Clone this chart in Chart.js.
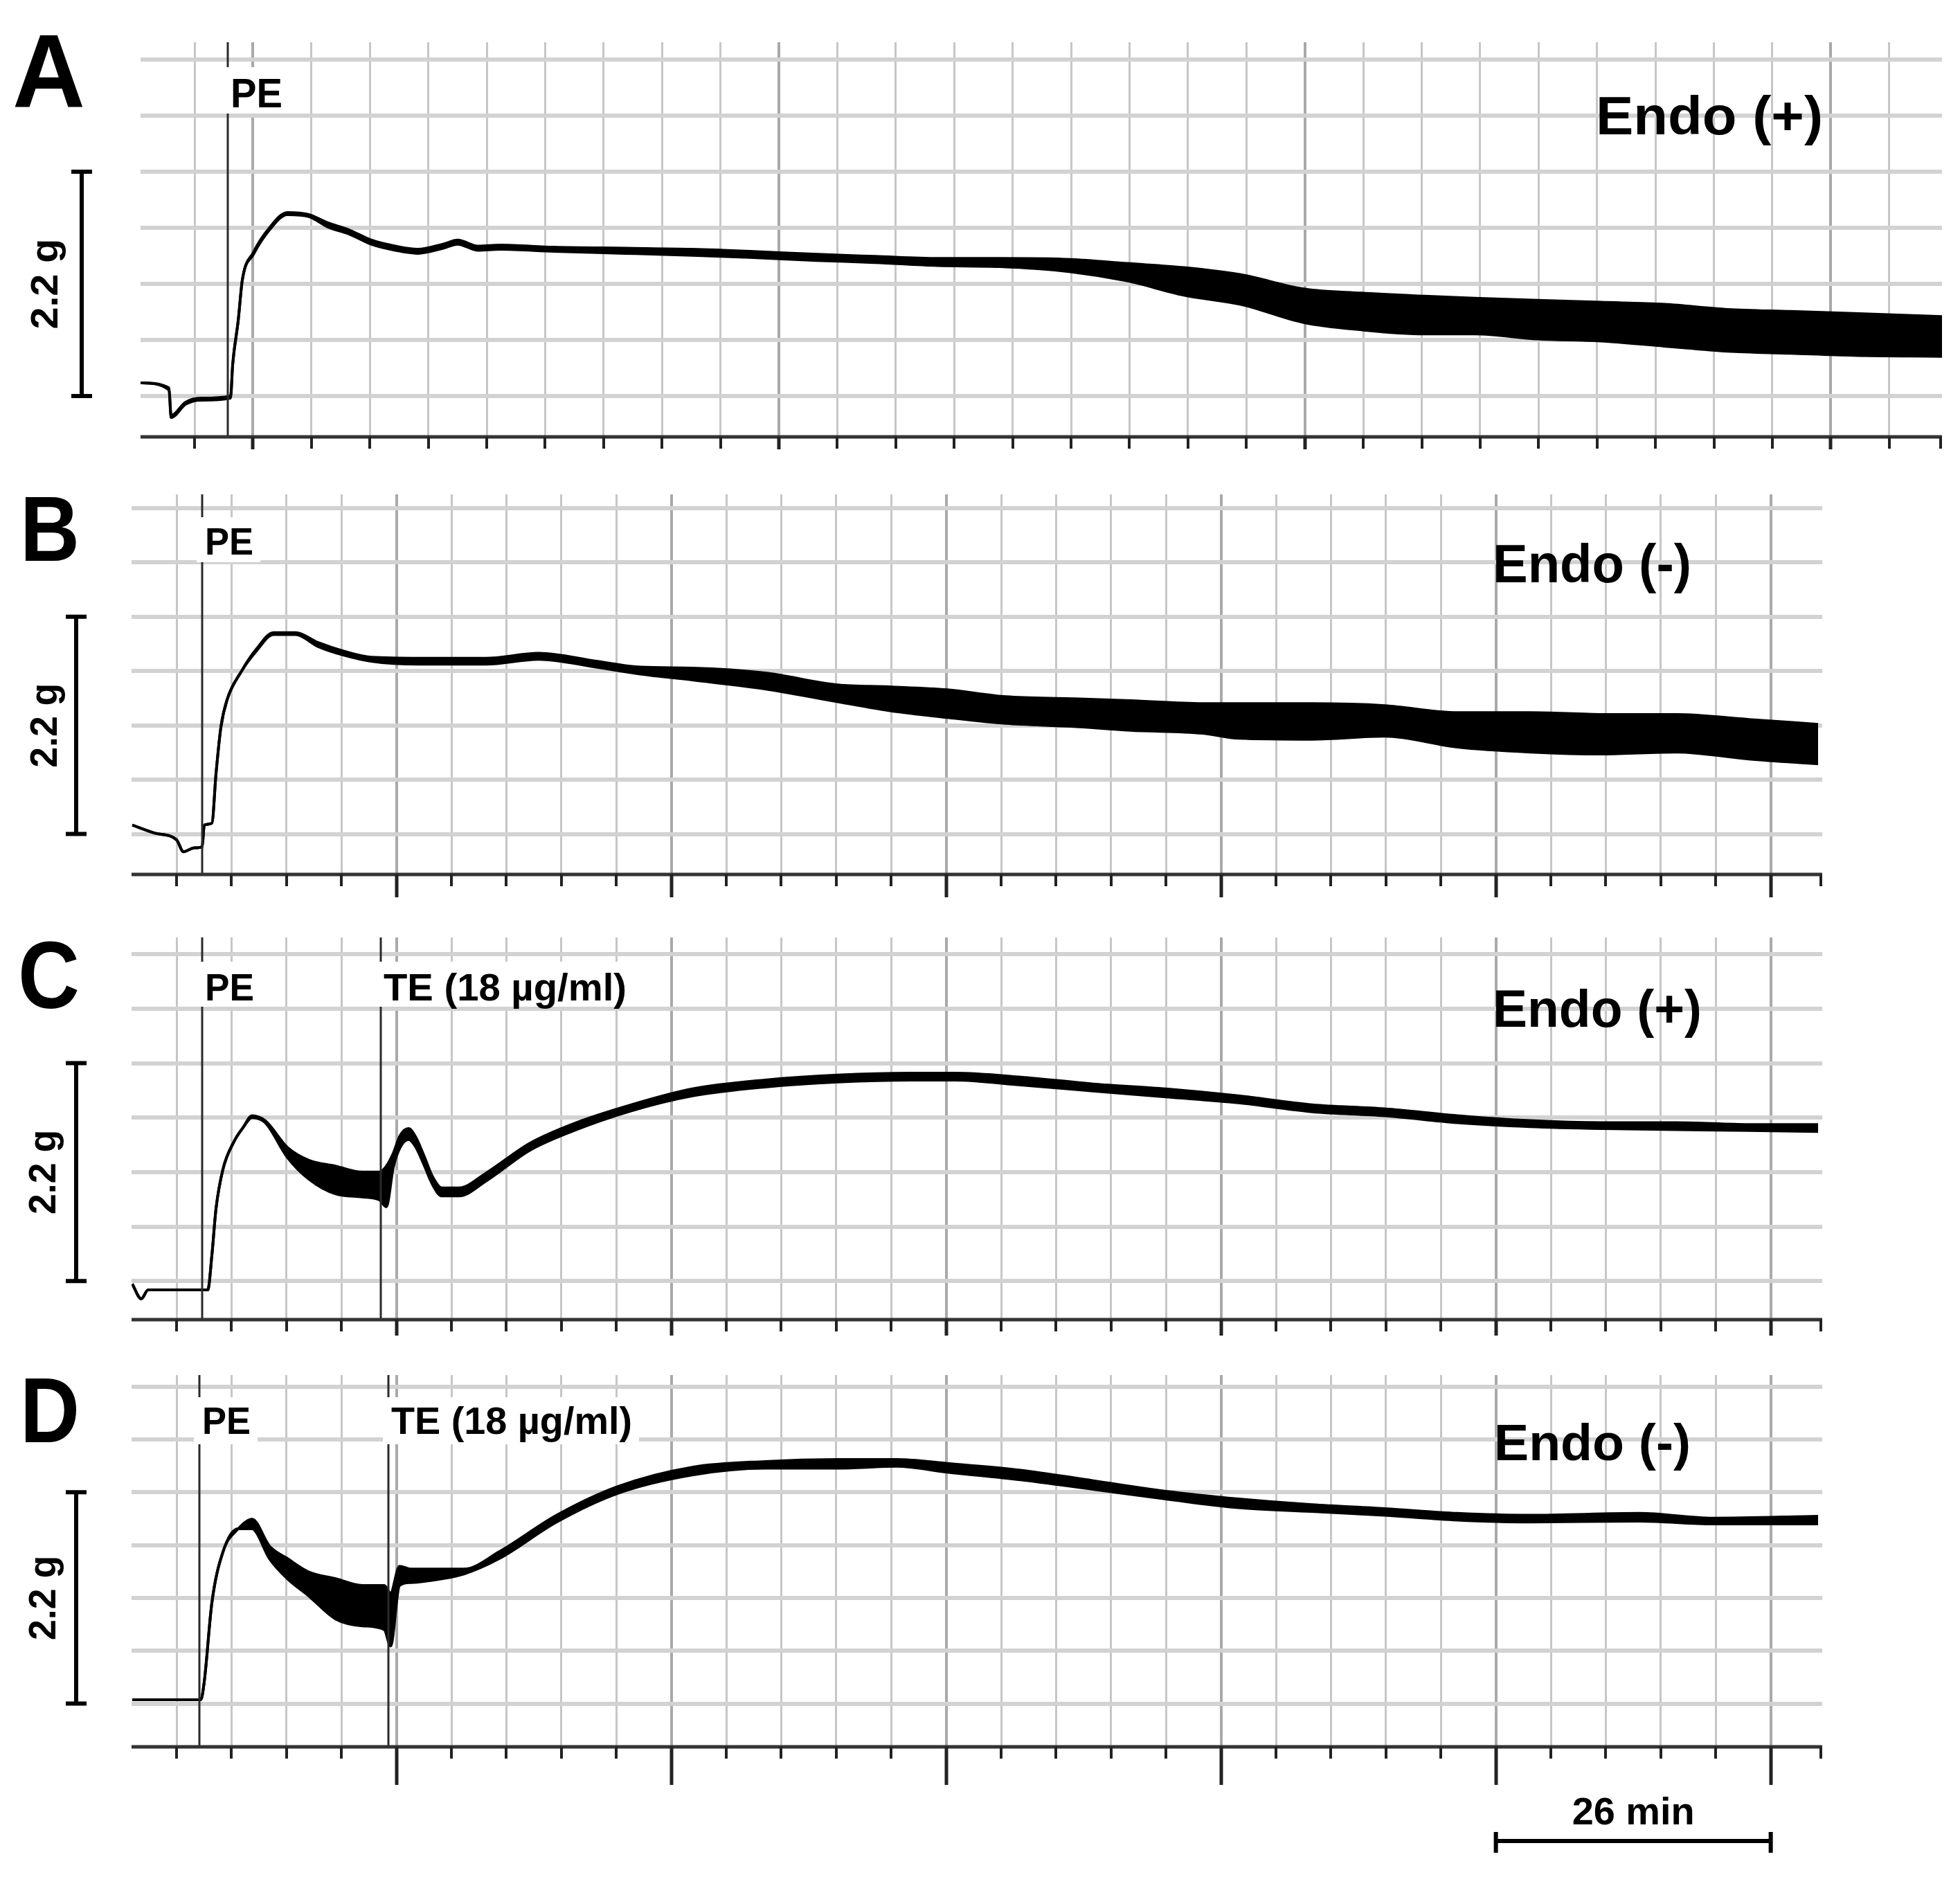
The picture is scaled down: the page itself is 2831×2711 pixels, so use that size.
<!DOCTYPE html>
<html>
<head>
<title>Isometric tension traces</title>
<script src="https://cdn.jsdelivr.net/npm/chart.js"></script>
<style>
  body { margin: 0; background: #fff; width: 2831px; height: 2711px; overflow: hidden; position: relative; }
  .panel { position: absolute; left: 0; width: 2831px; }
</style>
</head>
<body>

<script>
  // time in min, tension in g (upper / lower edge of the trace band)
  const aTime = [0.39, 2.92, 3.11, 4.40, 5.75, 8.40, 8.59, 9.08, 9.45, 10.44, 11.79, 13.46, 15.37, 17.03, 18.94, 20.91, 23.07, 25.04, 27.32, 28.61, 30.40, 32.37, 37.18, 43.52, 49.50, 54.61, 60.59, 65.76, 71.31, 76.85, 83.14, 88.19, 93.24, 98.29, 103.96, 109.01, 114.62, 119.12, 124.72, 130.33, 136.00, 141.60, 147.21, 152.82, 160.70];
  const aHigh = [0.13, 0.08, -0.19, -0.06, -0.02, 0.00, 0.31, 0.74, 1.14, 1.41, 1.64, 1.80, 1.78, 1.70, 1.63, 1.53, 1.47, 1.44, 1.49, 1.53, 1.47, 1.48, 1.46, 1.45, 1.44, 1.42, 1.39, 1.37, 1.35, 1.35, 1.34, 1.30, 1.26, 1.19, 1.05, 1.01, 0.98, 0.96, 0.94, 0.92, 0.90, 0.85, 0.83, 0.81, 0.78];
  const aLow  = [0.13, 0.06, -0.21, -0.08, -0.04, -0.02, 0.31, 0.74, 1.14, 1.39, 1.62, 1.78, 1.76, 1.66, 1.59, 1.49, 1.43, 1.40, 1.45, 1.49, 1.43, 1.44, 1.42, 1.40, 1.38, 1.36, 1.33, 1.31, 1.28, 1.27, 1.22, 1.13, 0.99, 0.90, 0.72, 0.65, 0.61, 0.61, 0.56, 0.54, 0.49, 0.44, 0.42, 0.40, 0.39];

  const bTime = [1.01, 3.10, 5.20, 5.85, 6.90, 7.62, 7.82, 8.54, 8.93, 9.39, 9.98, 11.29, 12.73, 14.37, 16.46, 18.56, 21.05, 23.60, 28.19, 34.47, 39.45, 44.89, 49.08, 53.99, 60.87, 67.74, 72.59, 78.09, 83.66, 89.81, 95.38, 102.26, 105.66, 112.60, 119.48, 126.36, 133.23, 140.18, 147.05, 153.93, 160.48];
  const bHigh = [0.09, 0.01, -0.06, -0.18, -0.14, -0.13, 0.09, 0.11, 0.61, 1.08, 1.36, 1.64, 1.87, 2.04, 2.04, 1.94, 1.85, 1.79, 1.78, 1.78, 1.83, 1.75, 1.69, 1.68, 1.63, 1.51, 1.49, 1.46, 1.39, 1.37, 1.35, 1.32, 1.32, 1.32, 1.30, 1.23, 1.23, 1.21, 1.21, 1.16, 1.11];
  const bLow  = [0.09, 0.01, -0.06, -0.18, -0.14, -0.13, 0.09, 0.11, 0.61, 1.08, 1.36, 1.64, 1.85, 2.02, 2.02, 1.90, 1.81, 1.75, 1.72, 1.72, 1.77, 1.69, 1.62, 1.56, 1.47, 1.34, 1.25, 1.18, 1.12, 1.09, 1.05, 1.02, 0.97, 0.96, 0.99, 0.88, 0.83, 0.81, 0.83, 0.76, 0.71];

  const cTime = [1.01, 1.86, 2.51, 8.15, 8.54, 8.93, 9.59, 10.64, 11.49, 12.34, 13.58, 15.68, 17.71, 20.26, 22.75, 24.39, 25.04, 25.70, 26.35, 27.14, 27.79, 28.58, 29.43, 30.28, 31.92, 34.47, 38.60, 42.79, 48.23, 53.99, 60.87, 67.74, 74.69, 78.81, 85.03, 91.91, 98.79, 105.66, 112.60, 119.48, 126.36, 133.23, 140.18, 147.05, 153.93, 160.48];
  const cHigh = [-0.03, -0.18, -0.09, -0.09, 0.26, 0.73, 1.13, 1.41, 1.55, 1.67, 1.62, 1.35, 1.22, 1.16, 1.10, 1.10, 1.16, 1.29, 1.47, 1.54, 1.46, 1.27, 1.05, 0.94, 0.94, 1.09, 1.39, 1.59, 1.78, 1.94, 2.03, 2.08, 2.10, 2.10, 2.06, 1.99, 1.94, 1.87, 1.78, 1.74, 1.67, 1.62, 1.60, 1.60, 1.58, 1.58];
  const cLow  = [-0.03, -0.18, -0.09, -0.09, 0.26, 0.73, 1.13, 1.41, 1.55, 1.65, 1.60, 1.25, 1.03, 0.88, 0.85, 0.82, 0.75, 1.15, 1.35, 1.43, 1.36, 1.18, 0.97, 0.86, 0.86, 1.01, 1.32, 1.52, 1.72, 1.87, 1.96, 2.01, 2.03, 2.03, 1.98, 1.92, 1.86, 1.80, 1.71, 1.67, 1.60, 1.56, 1.54, 1.53, 1.52, 1.51];

  const dTime = [1.01, 7.49, 7.82, 8.54, 9.59, 11.03, 12.34, 13.98, 15.68, 17.71, 20.26, 22.75, 24.85, 25.44, 26.29, 27.34, 30.28, 32.38, 35.72, 41.15, 46.98, 53.99, 60.87, 67.74, 73.31, 78.09, 85.03, 91.91, 98.79, 105.66, 112.60, 119.48, 126.36, 133.23, 143.58, 150.52, 160.48];
  const dHigh = [0.04, 0.04, 0.23, 1.05, 1.58, 1.82, 1.92, 1.64, 1.51, 1.37, 1.30, 1.23, 1.23, 1.15, 1.43, 1.40, 1.40, 1.40, 1.58, 1.96, 2.26, 2.46, 2.52, 2.54, 2.54, 2.50, 2.43, 2.32, 2.21, 2.13, 2.07, 2.03, 1.98, 1.96, 1.98, 1.93, 1.95];
  const dLow  = [0.04, 0.04, 0.23, 1.05, 1.58, 1.82, 1.82, 1.51, 1.30, 1.12, 0.88, 0.81, 0.77, 0.60, 1.23, 1.26, 1.30, 1.35, 1.51, 1.89, 2.19, 2.38, 2.45, 2.45, 2.47, 2.41, 2.33, 2.23, 2.13, 2.04, 2.00, 1.96, 1.91, 1.89, 1.90, 1.87, 1.87];

  // grid: 0.55 g per division, 5.2 min per division
  const yGridTicks = [0, 0.55, 1.1, 1.65, 2.2, 2.75, 3.3];
  const aMajorTicks = [10.4, 57.2, 104, 150.8];
  const majorTicks = [26, 52, 78, 104, 130, 156];
  const scaleBarGrams = 2.2;
  const scaleBarMinutes = [130, 156];
  const panelLetters = ['A', 'B', 'C', 'D'];
  const endoLabels = ['Endo (+)', 'Endo (-)', 'Endo (+)', 'Endo (-)'];
  const drugTimes = [[8.16], [7.62], [7.62, 24.52], [7.36, 25.24]];
  const drugLabels = [['PE'], ['PE'], ['PE', 'TE (18 µg/ml)'], ['PE', 'TE (18 µg/ml)']];

  const FONT = '"Liberation Sans", Arial, Helvetica, sans-serif';

  // page-coordinate layout of each panel
  const layout = [
    { top: 0, height: 680, left: 203, right: 2805, chartTop: 61, chartBottom: 631, xMin: 0.39, xMax: 160.7, yMin: -0.40, yMax: 3.47,
      majorLen: 18, letter: [18, 154, 151, 105], endo: [2305, 194, 78, 328], gX: 83, barX: 118,
      marks: [{ base: 155, gapTop: 97, gapBottom: 164, size: 60, w: [75] }] },
    { top: 680, height: 640, left: 190, right: 2632, chartTop: 714, chartBottom: 1263, xMin: 0.94, xMax: 160.87, yMin: -0.41, yMax: 3.44,
      majorLen: 33, letter: [29, 810, 134, 86], endo: [2156, 841, 77, 287], gX: 82, barX: 110,
      marks: [{ base: 801, gapTop: 747, gapBottom: 812, size: 56, w: [70] }] },
    { top: 1320, height: 640, left: 190, right: 2632, chartTop: 1354, chartBottom: 1906, xMin: 0.94, xMax: 160.87, yMin: -0.39, yMax: 3.47,
      majorLen: 23, letter: [26, 1456, 137, 89], endo: [2156, 1483, 76, 302], gX: 80, barX: 110,
      marks: [{ base: 1445, gapTop: 1389, gapBottom: 1454, size: 56, w: [71, 351] }] },
    { top: 1960, height: 751, left: 190, right: 2632, chartTop: 1986, chartBottom: 2523, xMin: 0.94, xMax: 160.87, yMin: -0.45, yMax: 3.42,
      majorLen: 55, letter: [29, 2083, 133, 86], endo: [2158, 2109, 75, 284], gX: 80, barX: 110,
      marks: [{ base: 2071, gapTop: 2018, gapBottom: 2086, size: 55, w: [70, 348] }] }
  ];

  const series = [[aTime, aHigh, aLow], [bTime, bHigh, bLow], [cTime, cHigh, cLow], [dTime, dHigh, dLow]];

  const xGridTicks = [];
  for (let k = 1; k <= 31; k++) xGridTicks.push(Math.round(k * 52) / 10);

  function isMajor(i, v) {
    const list = i === 0 ? aMajorTicks : majorTicks;
    return list.some(m => Math.abs(m - v) < 1e-6);
  }

  // text squeezed to the measured width of the original lettering
  function fitText(ctx, text, x, y, size, width, align) {
    ctx.save();
    ctx.font = 'bold ' + size + 'px ' + FONT;
    const natural = ctx.measureText(text).width;
    const sx = width ? width / natural : 1;
    ctx.translate(x, y);
    ctx.scale(sx, 1);
    ctx.textAlign = align || 'left';
    ctx.textBaseline = 'alphabetic';
    ctx.fillStyle = '#000';
    ctx.fillText(text, 0, 0);
    ctx.restore();
  }

  function decorPlugin(i) {
    const L = layout[i];
    return {
      id: 'decor' + i,
      afterDatasetsDraw(chart) {
        const ctx = chart.ctx;
        const xs = chart.scales.x;
        const area = chart.chartArea;
        const off = L.top;

        // drug addition markers with their labels
        const m = L.marks[0];
        drugTimes[i].forEach((t, j) => {
          const px = Math.round(xs.getPixelForValue(t));
          ctx.save();
          ctx.fillStyle = '#fff';
          ctx.fillRect(px - 8, m.gapTop - off, m.w[j] + 22, m.gapBottom - m.gapTop);
          ctx.strokeStyle = '#2a2a2a';
          ctx.lineWidth = 3;
          ctx.beginPath();
          ctx.moveTo(px, area.top);
          ctx.lineTo(px, m.gapTop - off);
          ctx.moveTo(px, m.gapBottom - off);
          ctx.lineTo(px, area.bottom);
          ctx.stroke();
          ctx.restore();
          fitText(ctx, drugLabels[i][j], px + 4, m.base - off, m.size, m.w[j]);
        });
      },
      afterDraw(chart) {
        const ctx = chart.ctx;
        const xs = chart.scales.x, ys = chart.scales.y;
        const area = chart.chartArea;
        const off = L.top;

        // time axis with ticks
        ctx.save();
        ctx.strokeStyle = '#333';
        ctx.lineWidth = 5;
        ctx.beginPath();
        ctx.moveTo(area.left, area.bottom);
        ctx.lineTo(area.right, area.bottom);
        ctx.stroke();
        xGridTicks.forEach(v => {
          if (v < xs.min || v > xs.max) return;
          const px = Math.round(xs.getPixelForValue(v));
          const major = isMajor(i, v);
          ctx.lineWidth = major ? 5 : 4;
          ctx.strokeStyle = '#222';
          ctx.beginPath();
          ctx.moveTo(px, area.bottom);
          ctx.lineTo(px, area.bottom + (major ? L.majorLen : 17));
          ctx.stroke();
        });
        ctx.lineWidth = 4;
        ctx.beginPath();
        ctx.moveTo(area.right - 2, area.bottom);
        ctx.lineTo(area.right - 2, area.bottom + 17);
        ctx.stroke();

        // 2.2 g calibration bar
        const y0 = ys.getPixelForValue(0), y1 = ys.getPixelForValue(scaleBarGrams);
        ctx.strokeStyle = '#000';
        ctx.lineWidth = 6;
        ctx.beginPath();
        ctx.moveTo(L.barX, y0);
        ctx.lineTo(L.barX, y1);
        ctx.moveTo(L.barX - 15, y0);
        ctx.lineTo(L.barX + 15, y0);
        ctx.moveTo(L.barX - 15, y1);
        ctx.lineTo(L.barX + 15, y1);
        ctx.stroke();
        ctx.restore();

        ctx.save();
        ctx.translate(L.gX, (y0 + y1) / 2);
        ctx.rotate(-Math.PI / 2);
        fitText(ctx, scaleBarGrams + ' g', 0, 0, 56, i === 0 ? 131 : 122, 'center');
        ctx.restore();

        // panel letter and condition
        fitText(ctx, panelLetters[i], L.letter[0], L.letter[1] - off, L.letter[2], L.letter[3]);
        fitText(ctx, endoLabels[i], L.endo[0], L.endo[1] - off, L.endo[2], L.endo[3]);

        // 26 min time bar under the last panel
        if (i === 3) {
          const xa = xs.getPixelForValue(scaleBarMinutes[0]);
          const xb = xs.getPixelForValue(scaleBarMinutes[1]);
          const yb = 2659 - off;
          ctx.save();
          ctx.strokeStyle = '#000';
          ctx.lineWidth = 6;
          ctx.beginPath();
          ctx.moveTo(xa, yb);
          ctx.lineTo(xb, yb);
          ctx.moveTo(xa, yb - 13);
          ctx.lineTo(xa, yb + 17);
          ctx.moveTo(xb, yb - 13);
          ctx.lineTo(xb, yb + 17);
          ctx.stroke();
          ctx.restore();
          fitText(ctx, (scaleBarMinutes[1] - scaleBarMinutes[0]) + ' min', (xa + xb) / 2, 2635 - off, 56, 177, 'center');
        }
      }
    };
  }

  layout.forEach((L, i) => {
    const div = document.createElement('div');
    div.className = 'panel';
    div.style.top = L.top + 'px';
    div.style.height = L.height + 'px';
    const canvas = document.createElement('canvas');
    canvas.width = 2831;
    canvas.height = L.height;
    canvas.style.width = '2831px';
    canvas.style.height = L.height + 'px';
    div.appendChild(canvas);
    document.body.appendChild(div);

    const [time, high, low] = series[i];
    new Chart(canvas.getContext('2d'), {
      type: 'line',
      data: {
        datasets: [{
          data: time.map((t, k) => ({ x: t, y: high[k] })),
          borderColor: '#000',
          borderWidth: 4,
          pointRadius: 0,
          cubicInterpolationMode: 'monotone',
          fill: false
        }, {
          data: time.map((t, k) => ({ x: t, y: low[k] })),
          borderColor: '#000',
          backgroundColor: '#000',
          borderWidth: 4,
          pointRadius: 0,
          cubicInterpolationMode: 'monotone',
          fill: '-1'
        }]
      },
      options: {
        responsive: false,
        animation: false,
        devicePixelRatio: 1,
        layout: {
          padding: { left: L.left, right: 2831 - L.right, top: L.chartTop - L.top, bottom: L.top + L.height - L.chartBottom }
        },
        plugins: { legend: { display: false }, tooltip: { enabled: false } },
        scales: {
          x: {
            type: 'linear',
            min: L.xMin,
            max: L.xMax,
            afterBuildTicks: axis => { axis.ticks = xGridTicks.filter(v => v > L.xMin && v < L.xMax).map(v => ({ value: v })); },
            ticks: { display: false },
            border: { display: false },
            grid: {
              drawTicks: false,
              color: c => isMajor(i, c.tick.value) ? '#a9a9a9' : '#c6c6c6',
              lineWidth: c => isMajor(i, c.tick.value) ? 4 : 3
            }
          },
          y: {
            min: L.yMin,
            max: L.yMax,
            afterBuildTicks: axis => { axis.ticks = yGridTicks.map(v => ({ value: v })); },
            ticks: { display: false },
            border: { display: false },
            grid: { drawTicks: false, color: '#d2d2d2', lineWidth: 6 }
          }
        }
      },
      plugins: [decorPlugin(i)]
    });
  });
</script>

</body>
</html>
